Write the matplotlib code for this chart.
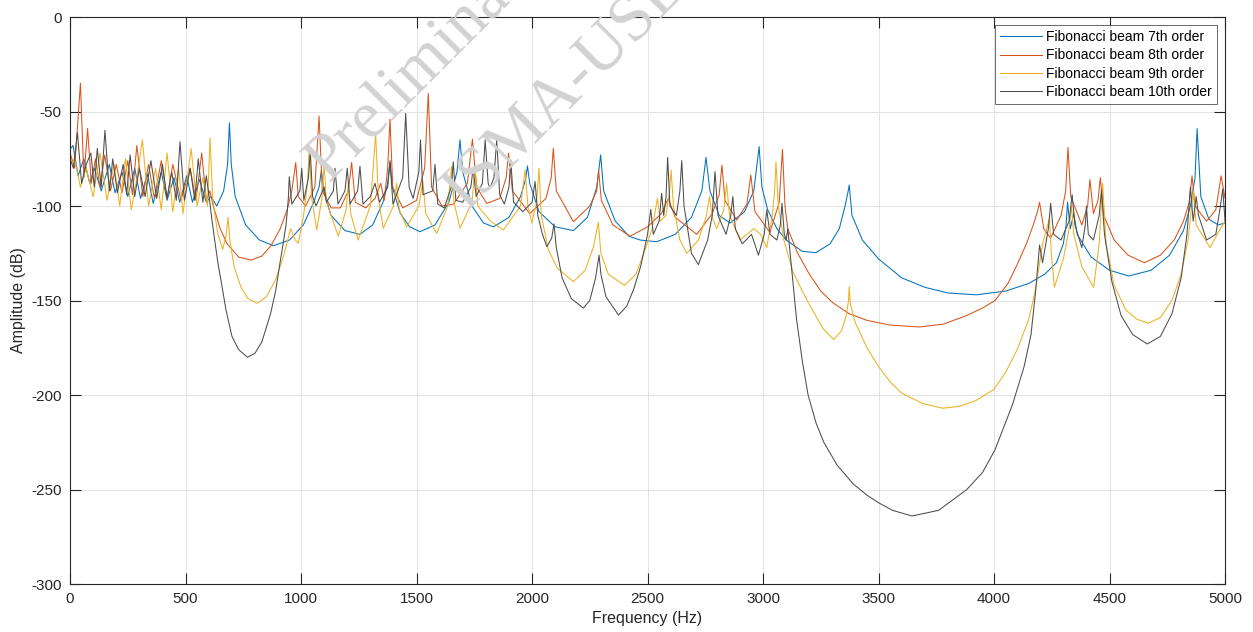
import matplotlib
matplotlib.use("Agg")
import matplotlib.pyplot as plt
import numpy as np

# values (frequency in Hz, amplitude in dB)
freq_7 = [0, 13, 35, 60, 85, 105, 135, 170, 195, 225, 250, 280, 305, 335, 360, 395, 420, 450, 475, 505,
          530, 560, 590, 610, 635, 665, 682, 690, 698, 715, 760, 820, 880, 950, 1010, 1055, 1078, 1088,
          1098, 1130, 1190, 1255, 1310, 1355, 1375, 1385, 1395, 1430, 1470, 1515, 1580, 1640, 1675, 1688,
          1700, 1740, 1790, 1833, 1900, 1950, 1972, 1980, 1990, 2030, 2100, 2179, 2240, 2280, 2297, 2310,
          2360, 2420, 2468, 2540, 2620, 2690, 2735, 2753, 2770, 2810, 2857, 2920, 2960, 2983, 2995, 3020,
          3060, 3100, 3170, 3229, 3290, 3330, 3355, 3367, 3373, 3385, 3430, 3500, 3600, 3700, 3800, 3923,
          4050, 4150, 4220, 4270, 4300, 4312, 4318, 4330, 4345, 4360, 4420, 4500, 4583, 4680, 4760, 4820,
          4850, 4870, 4879, 4895, 4930, 4970, 5000]
amp_7 = [-70, -68, -84, -75, -88, -80, -92, -78, -93, -82, -95, -80, -96, -83, -98.6, -82, -97, -85, -98, -84,
         -98, -86, -98, -95, -100, -92, -78, -56, -78, -95, -110, -118, -121, -118, -110, -98, -90, -81,
         -92, -105, -113, -115, -110, -98, -88, -77, -90, -104, -111, -113.6, -110, -98, -82, -65,
         -82, -100, -109, -111, -106, -95, -86, -78.8, -88, -103, -111, -113, -106, -90, -73, -92,
         -108, -116, -118, -118.9, -115, -106, -92, -74.3, -92, -105, -109, -103, -92, -68.6, -90, -102,
         -112, -118, -124, -124.7, -120, -112, -100, -93, -88.9, -105, -118, -128, -138, -143, -146, -147,
         -145, -141, -136, -130, -120, -110, -98, -112, -104, -115, -127, -134, -137, -134, -126, -113,
         -100, -85, -59, -95, -107, -110, -109]

freq_8 = [0, 20, 45, 60, 76, 92, 110, 130, 150, 175, 200, 225, 250, 270, 289, 315, 340, 365, 395, 420,
          445, 480, 520, 545, 570, 590, 605, 620, 650, 680, 730, 784, 830, 870, 910, 940, 960, 977, 988,
          1020, 1060, 1078, 1092, 1130, 1170, 1205, 1219, 1235, 1280, 1320, 1345, 1360, 1375, 1385, 1397,
          1440, 1500, 1535, 1551, 1565, 1610, 1660, 1720, 1742, 1760, 1804, 1860, 1888, 1898, 1915, 1990,
          2060, 2083, 2092, 2105, 2179, 2250, 2280, 2288, 2300, 2350, 2424, 2500, 2560, 2590, 2620, 2713,
          2780, 2810, 2822, 2835, 2886, 2930, 2947, 2965, 3030, 3070, 3084, 3095, 3107, 3150, 3200, 3250,
          3300, 3373, 3450, 3550, 3677, 3780, 3880, 3950, 4004, 4060, 4100, 4140, 4170, 4190, 4197, 4215,
          4245, 4290, 4310, 4320, 4332, 4380, 4405, 4415, 4430, 4450, 4460, 4475, 4520, 4580, 4651, 4720,
          4780, 4820, 4845, 4857, 4870, 4920, 4960, 4983, 5000]
amp_8 = [-72, -80, -35, -85, -59, -88, -75, -90, -73, -92, -78, -93, -76, -94, -68, -95, -78, -96, -76, -96,
         -78, -97, -80, -97, -72, -97, -92, -100, -112, -120, -127, -128.6, -126.5, -121, -112, -102, -92, -77, -95,
         -100, -90, -52.4, -92, -101, -101, -92, -77, -98, -101, -96, -88, -97, -80, -54, -90,
         -101, -97, -80, -40.4, -90, -100, -99, -88, -64.6, -90, -98.6, -96, -85, -72, -92, -104,
         -96, -85, -69.5, -92, -108.3, -100, -92, -81, -97, -110, -116, -111, -104, -96, -106, -115,
         -104, -94, -78.3, -97, -107.4, -99, -83.6, -103, -114, -98, -70, -100, -112, -125, -136, -145,
         -151, -157, -160.5, -163, -164, -162.5, -158, -154, -150, -141, -131, -120, -110, -102, -98, -112,
         -117, -105, -92, -69, -95, -110, -100, -86, -104, -97, -85, -105, -118, -126, -130, -126,
         -118, -108, -98, -84, -100, -108, -102, -84, -96]

freq_9 = [0, 20, 45, 70, 100, 130, 160, 190, 215, 240, 265, 290, 313, 340, 370, 395, 420, 445, 470, 489,
          524, 550, 575, 595, 606, 618, 640, 661, 676, 684, 692, 710, 740, 770, 810, 850, 890, 923, 955,
          975, 988, 1010, 1028, 1036, 1045, 1068, 1090, 1100, 1110, 1161, 1195, 1205, 1215, 1247, 1300,
          1323, 1335, 1356, 1400, 1414, 1425, 1457, 1510, 1527, 1540, 1587, 1635, 1652, 1662, 1688, 1740,
          1753, 1765, 1820, 1876, 1950, 1970, 1982, 1999, 2020, 2030, 2040, 2070, 2110, 2179, 2230, 2265,
          2287, 2298, 2330, 2400, 2450, 2490, 2520, 2543, 2555, 2580, 2595, 2602, 2612, 2640, 2670, 2720,
          2755, 2768, 2780, 2800, 2830, 2842, 2855, 2900, 2960, 2990, 3016, 3040, 3050, 3056, 3066, 3090,
          3130, 3170, 3200, 3260, 3305, 3340, 3360, 3370, 3373, 3378, 3400, 3450, 3500, 3550, 3600, 3690,
          3779, 3850, 3920, 4000, 4050, 4100, 4150, 4180, 4210, 4240, 4248, 4261, 4300, 4325, 4335, 4345,
          4380, 4431, 4455, 4470, 4485, 4520, 4570, 4620, 4668, 4720, 4770, 4810, 4840, 4862, 4875, 4935,
          4975, 5000]
amp_9 = [-78, -75, -90, -80, -95, -72, -97, -78, -100, -75, -102, -85, -65, -100, -80, -102, -72, -103, -80, -104,
         -69.5, -100, -85, -100, -64, -97, -115, -123, -115, -106, -118, -132, -143, -149, -151.5, -148, -139, -127, -112,
         -118, -119.7, -106, -88, -68, -95, -112.7, -96, -78, -98, -116, -102, -88, -104, -118, -100,
         -62, -96, -111.8, -100, -88, -102, -111, -100, -87, -104, -114.5, -100, -79, -98, -111.8, -98,
         -79, -100, -108, -112.7, -100, -81, -100, -109, -98, -80, -105, -123, -133, -140, -134, -122,
         -108.6, -125, -136, -142, -136, -123, -112, -96, -108, -105, -92, -81, -100, -118, -125, -118,
         -105, -95, -106, -112, -102, -88, -105, -118, -112, -115, -122, -105, -92, -76.6, -100, -118,
         -135, -145, -152, -165, -170.6, -166, -158, -150, -142.7, -152, -162, -175, -185, -193, -199, -204.5,
         -207, -206, -203, -197, -188, -176, -160, -144, -120, -106.5, -125, -143, -128, -112, -100, -115,
         -132, -143, -120, -88, -120, -142, -155, -160, -162, -159, -150, -136, -118, -92, -110, -122,
         -113, -108]

freq_10 = [0, 15, 32, 50, 70, 90, 105, 118, 135, 151, 170, 185, 205, 230, 245, 260, 280, 300, 325, 350,
           375, 400, 420, 440, 460, 476, 495, 520, 540, 555, 575, 590, 605, 615, 625, 640, 653, 675, 701,
           730, 768, 800, 830, 868, 890, 909, 925, 935, 945, 949, 960, 995, 1003, 1012, 1032, 1040, 1050,
           1065, 1100, 1110, 1140, 1147, 1160, 1190, 1200, 1212, 1245, 1255, 1268, 1300, 1320, 1340, 1375,
           1385, 1398, 1440, 1453, 1468, 1485, 1510, 1517, 1528, 1570, 1580, 1592, 1620, 1650, 1659, 1670,
           1700, 1735, 1745, 1758, 1785, 1797, 1810, 1818, 1835, 1847, 1860, 1880, 1900, 1908, 1920, 1960,
           2000, 2013, 2025, 2045, 2064, 2085, 2095, 2105, 2130, 2170, 2222, 2250, 2275, 2290, 2298, 2320,
           2374, 2410, 2440, 2470, 2500, 2514, 2525, 2550, 2561, 2570, 2580, 2587, 2597, 2625, 2640, 2648,
           2658, 2690, 2720, 2760, 2780, 2792, 2805, 2840, 2860, 2869, 2880, 2910, 2950, 2980, 3005, 3016,
           3030, 3060, 3075, 3082, 3092, 3100, 3107, 3125, 3145, 3170, 3195, 3230, 3263, 3320, 3390, 3450,
           3500, 3560, 3645, 3760, 3882, 3950, 4004, 4080, 4130, 4160, 4180, 4192, 4197, 4210, 4235, 4245,
           4258, 4290, 4325, 4338, 4350, 4380, 4395, 4400, 4408, 4430, 4455, 4465, 4478, 4510, 4550, 4600,
           4663, 4720, 4770, 4810, 4835, 4850, 4862, 4875, 4885, 4920, 4960, 4980, 4990, 5000]
amp_10 = [-75, -80, -61, -88, -78, -72, -90, -69.5, -90, -60, -92, -75, -93, -78, -94, -73, -95, -80, -95, -76,
          -96, -78, -96, -82, -97, -66, -97, -80, -97, -75, -98, -84, -98, -108, -117, -130, -139, -155, -169,
          -176, -180, -178, -172, -157, -145, -130, -118, -110, -96, -84.5, -99, -92, -80, -97, -85, -71, -95,
          -100, -90, -98, -92, -80, -99, -92, -80, -99, -92, -79, -99, -95, -88, -98, -90,
          -76, -99, -85, -51, -90, -96, -82, -65, -94, -92, -78, -99, -101, -90, -76.6, -97,
          -98, -90, -80, -95, -88, -65, -88, -90.6, -85, -65, -94, -99, -90, -75.7, -98, -103,
          -98, -87, -105, -115, -121.5, -117, -109.5, -122, -138, -149, -154, -150, -138, -126, -136, -148,
          -157.7, -153, -144, -132, -115, -101.8, -115, -108, -93.3, -105, -95, -74.3, -100, -105, -92, -76,
          -100, -125, -131, -118, -105, -81.8, -105, -115, -105, -95, -112, -120, -115, -126, -115, -102,
          -115, -118, -110, -98.5, -115, -118, -112, -135, -160, -182, -200, -215, -225, -237, -247, -253,
          -257, -261, -264, -261, -250, -241, -229, -205, -185, -168, -145, -128, -120.6, -130, -112, -98.6,
          -115, -118, -108, -94, -110, -122, -110, -100, -115, -118, -105, -91.5, -115, -140, -158, -168,
          -173, -169, -157, -138, -115, -90, -108, -95, -105, -118, -115, -100, -91, -108]

labels = ["Fibonacci beam 7th order", "Fibonacci beam 8th order",
          "Fibonacci beam 9th order", "Fibonacci beam 10th order"]
colors = ["#0072BD", "#D95319", "#EDB120", "#4D4D4D"]

plt.rcParams["font.family"] = ["Liberation Sans", "DejaVu Sans"]
plt.rcParams["axes.unicode_minus"] = False

fig = plt.figure(figsize=(12.53, 6.32), dpi=100)
ax = fig.add_axes([0.0559, 0.0759, 0.9218, 0.8972])

series = [(freq_7, amp_7), (freq_8, amp_8), (freq_9, amp_9), (freq_10, amp_10)]
for (f, a), lab, c in zip(series, labels, colors):
    ax.plot(f, a, color=c, lw=0.75, label=lab)

ax.set_xlim(0, 5000)
ax.set_ylim(-300, 0)
ax.set_xticks(np.arange(0, 5001, 500))
ax.set_yticks(np.arange(-300, 1, 50))
ax.grid(True, color="#e3e3e3", lw=0.7)
ax.set_axisbelow(True)
ax.tick_params(direction="in", length=8, width=0.8, top=True, right=True,
               labelsize=11, colors="#262626", pad=6)
for s in ax.spines.values():
    s.set_color("#262626")
    s.set_linewidth(0.8)
ax.set_xlabel("Frequency (Hz)", fontsize=11.5, color="#262626", labelpad=3)
ax.set_ylabel("Amplitude (dB)", fontsize=11.5, color="#262626", labelpad=4)

leg = ax.legend(loc="upper right", fontsize=10, frameon=True, fancybox=False,
                borderpad=0.35, labelspacing=0.3, handlelength=3.0, handletextpad=0.3,
                borderaxespad=0.6)
leg.get_frame().set_edgecolor("#262626")
leg.get_frame().set_linewidth(0.6)

# watermark of the source document
fig.text(0.262, 0.71, "Preliminary", transform=fig.transFigure, rotation=45,
         rotation_mode="anchor", ha="left", va="baseline", fontsize=48,
         family="Liberation Serif", color="#d2d2d2", zorder=10)
fig.text(0.372, 0.665, "ISMA-USD", transform=fig.transFigure, rotation=45,
         rotation_mode="anchor", ha="left", va="baseline", fontsize=48,
         family="Liberation Serif", color="#d2d2d2", zorder=10)

fig.savefig("out.png", dpi=100)
